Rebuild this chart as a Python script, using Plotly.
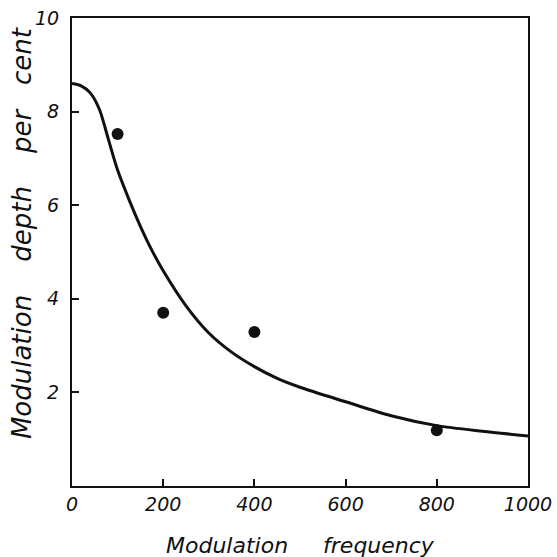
import plotly.graph_objects as go

# Measured data points
point_freq = [100, 200, 400, 800]
point_depth = [7.52, 3.70, 3.29, 1.19]

# Fitted curve
curve_freq = [0, 20, 40, 60, 80, 100, 125, 150, 175, 200, 250, 300, 350, 400, 450, 500, 600, 700, 800, 900, 1000]
curve_depth = [8.6, 8.55, 8.4, 8.05, 7.4, 6.75, 6.12, 5.55, 5.04, 4.6, 3.85, 3.27, 2.86, 2.55, 2.3, 2.11, 1.8, 1.5, 1.29, 1.17, 1.07]

x_ticks = [0, 200, 400, 600, 800, 1000]
y_ticks = [2, 4, 6, 8, 10]

FONT = "DejaVu Sans"

fig = go.Figure()
fig.add_trace(go.Scatter(
    x=curve_freq, y=curve_depth, mode="lines",
    line=dict(color="#111", width=3, shape="spline", smoothing=0.8),
    showlegend=False, hoverinfo="skip"))
fig.add_trace(go.Scatter(
    x=point_freq, y=point_depth, mode="markers",
    marker=dict(color="#111", size=12),
    showlegend=False))

fig.update_layout(
    width=557, height=557,
    margin=dict(l=72, r=29, t=18, b=71),
    paper_bgcolor="white", plot_bgcolor="white",
    xaxis=dict(range=[0, 1000], tickvals=x_ticks, ticktext=[str(v) for v in x_ticks],
               ticks="inside", ticklen=7, tickwidth=2, tickcolor="#111",
               showline=True, linecolor="#111", linewidth=2, mirror=True,
               showgrid=False, zeroline=False, automargin=False,
               ticklabeloverflow="allow",
               tickfont=dict(family=FONT, size=19, color="#111", style="italic")),
    yaxis=dict(range=[0, 10], tickvals=y_ticks, ticktext=[str(v) for v in y_ticks],
               ticks="inside", ticklen=7, tickwidth=2, tickcolor="#111",
               showline=True, linecolor="#111", linewidth=2, mirror=True,
               showgrid=False, zeroline=False, ticklabelstandoff=7, automargin=False,
               ticklabeloverflow="allow",
               tickfont=dict(family=FONT, size=19, color="#111", style="italic")),
    annotations=[
        dict(text="Modulation&nbsp;&nbsp;&nbsp;&nbsp;&nbsp;frequency", xref="paper", yref="paper",
             x=0.5, y=-0.127, xanchor="center", yanchor="middle", showarrow=False,
             font=dict(family=FONT, size=22, color="#111", style="italic")),
        dict(text="Modulation&nbsp;&nbsp;&nbsp;&nbsp;depth&nbsp;&nbsp;&nbsp;&nbsp;per&nbsp;&nbsp;&nbsp;cent", xref="paper", yref="paper",
             x=-0.11, y=0.54, xanchor="center", yanchor="middle", showarrow=False,
             textangle=-90,
             font=dict(family=FONT, size=26, color="#111", style="italic")),
    ],
)

fig.write_html("out.html", post_script="document.body.style.margin='0';",
               config={"displayModeBar": False})
